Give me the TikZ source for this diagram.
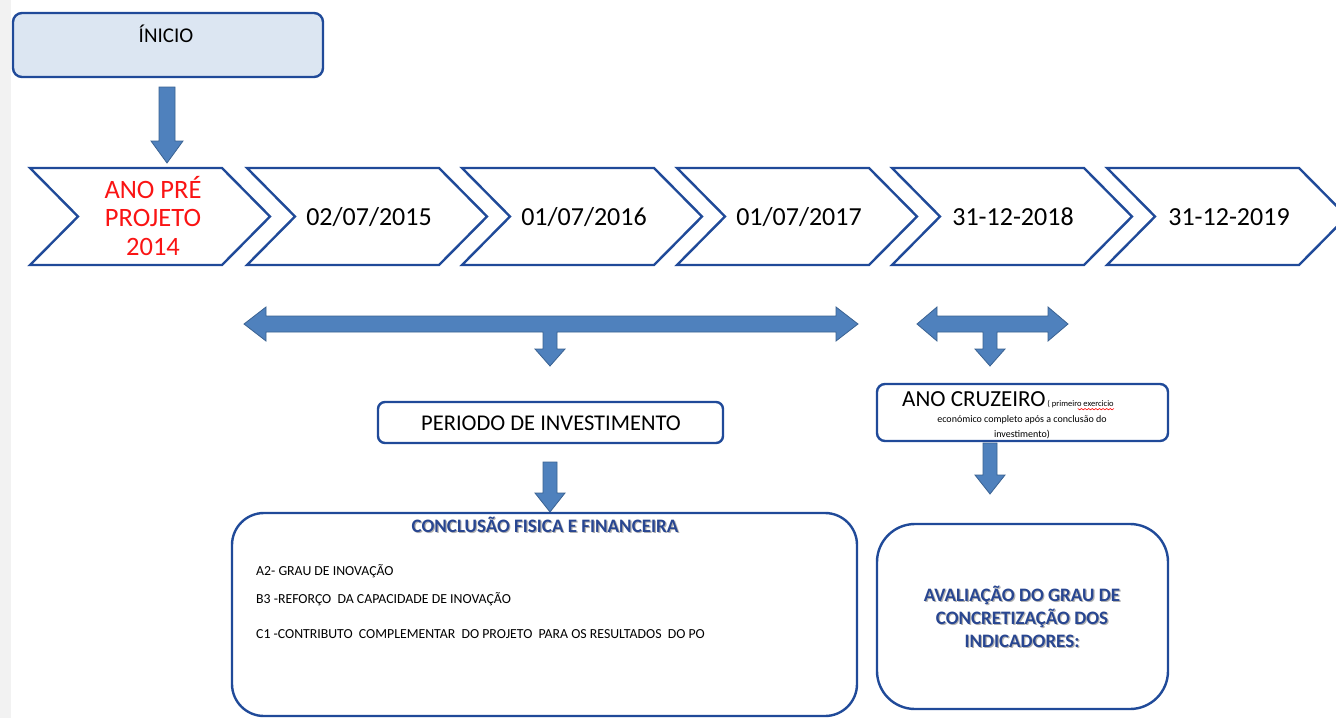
\documentclass[tikz,border=0pt]{standalone}
\usepackage{fontspec}
\setmainfont{Carlito}
\definecolor{bord}{RGB}{32,74,153}
\definecolor{arrf}{RGB}{79,129,189}
\definecolor{arrd}{RGB}{58,98,146}
\definecolor{inifill}{RGB}{220,230,242}
\definecolor{ttl}{RGB}{40,70,145}
\definecolor{redtxt}{RGB}{250,20,20}
\begin{document}
\begin{tikzpicture}[x=1pt,y=-1pt,
  box/.style={draw=bord,line width=2.4pt,fill=white},
  chev/.style={draw=bord,line width=2.4pt,fill=white,line join=miter},
  blk/.style={fill=arrf,draw=arrd,line width=0.8pt,line join=miter},
  lbl/.style={inner sep=0pt,text=black},
  datelbl/.style={lbl,font=\fontsize{26}{28}\selectfont},
  item/.style={lbl,anchor=west,font=\fontsize{13.8}{15}\selectfont},
  ttlshadow/.style={inner sep=0pt,text=black!30,align=center,font=\bfseries\fontsize{19}{23}\selectfont},
  ttltext/.style={inner sep=0pt,text=ttl,align=center,font=\bfseries\fontsize{19}{23}\selectfont}]
\useasboundingbox (0,0) rectangle (1336,718);
\clip (0,0) rectangle (1336,718);
\fill[white] (0,0) rectangle (1336,718);
\fill[black!5] (0,0) rectangle (11,718);

% INICIO
\draw[box,fill=inifill,rounded corners=9pt] (13,13) rectangle (323,77);
\node[lbl,font=\fontsize{21}{22}\selectfont] (ini) at (166,34) {ÍNICIO};

% arrow INICIO -> chevron
\draw[blk] (159,87) -- (175,87) -- (175,141) -- (183,141) -- (167,163) -- (151,141) -- (159,141) -- cycle;

% chevrons
\foreach \x in {30,247,462,677,892,1107}{
  \draw[chev] (\x,168) -- (\x+192,168) -- (\x+240,216.5) -- (\x+192,265) -- (\x,265) -- (\x+48,216.5) -- cycle;
}
\node[lbl,text=redtxt,align=center,font=\fontsize{26.5}{28.5}\selectfont] (c1) at (153,216) {ANO PRÉ\\PROJETO\\2014};
\node[datelbl] (c2) at (369,217) {02/07/2015};
\node[datelbl] (c3) at (584,217) {01/07/2016};
\node[datelbl] (c4) at (799,217) {01/07/2017};
\node[datelbl] (c5) at (1013,217) {31-12-2018};
\node[datelbl] (c6) at (1229,217) {31-12-2019};

% big double arrow
\draw[blk] (244,324) -- (266,307) -- (266,316) -- (836,316) -- (836,307) -- (858,324) -- (836,341) -- (836,332)
  -- (557,332) -- (557,349) -- (565,349) -- (550,366) -- (535,349) -- (543,349) -- (543,332)
  -- (266,332) -- (266,341) -- cycle;
% small double arrow
\draw[blk] (917,324) -- (937,307) -- (937,316) -- (1048,316) -- (1048,307) -- (1068,324) -- (1048,341) -- (1048,332)
  -- (997,332) -- (997,349) -- (1005,349) -- (990,366) -- (975,349) -- (983,349) -- (983,332)
  -- (937,332) -- (937,341) -- cycle;

% PERIODO box
\draw[box,rounded corners=7pt] (378,402) rectangle (723,443);
\node[lbl,font=\fontsize{22.5}{24}\selectfont] (per) at (551,423) {PERIODO DE INVESTIMENTO};

% ANO CRUZEIRO box
\draw[box,rounded corners=8pt] (877,384) rectangle (1168,441);
\node[lbl,anchor=base west,font=\fontsize{23}{24}\selectfont] (cru) at (902,406) {ANO CRUZEIRO};
\node[lbl,anchor=base west,font=\fontsize{8.5}{9}\selectfont] (cru1) at (cru.base east) {\,( primeiro exercicio};
\draw[red,line width=0.6pt] ([xshift=-36pt,yshift=-2.5pt]cru1.base east) \foreach \k in {0,...,9}{ -- ++(1.8,1.3) -- ++(1.8,-1.3)};
\node[lbl,align=center,font=\fontsize{10}{14.5}\selectfont] (cru2) at (1022,427) {económico completo após a conclusão do\\investimento)};

% arrows down
\draw[blk] (543,462) -- (557,462) -- (557,493) -- (565,493) -- (550,512) -- (535,493) -- (543,493) -- cycle;
\draw[blk] (983,443) -- (997,443) -- (997,475) -- (1005,475) -- (990,494) -- (975,475) -- (983,475) -- cycle;

% CONCLUSAO box
\draw[box,rounded corners=32pt] (232,513) rectangle (857,716);
\node[ttlshadow] at (546.2,526.2) {CONCLUSÃO FISICA E FINANCEIRA};
\node[ttltext] (con) at (545,525) {CONCLUSÃO FISICA E FINANCEIRA};
\node[item] (a2) at (256,571) {A2- GRAU DE INOVAÇÃO};
\node[item] (b3) at (256,599) {B3 -REFORÇO\ \ DA CAPACIDADE DE INOVAÇÃO};
\node[item] (c1t) at (256,634) {C1 -CONTRIBUTO\ \ COMPLEMENTAR\ \ DO PROJETO\ \ PARA OS RESULTADOS\ \ DO PO};

% AVALIACAO box
\draw[box,rounded corners=38pt] (877,524) rectangle (1168,709);
\node[ttlshadow] at (1023.2,618.2) {AVALIAÇÃO DO GRAU DE\\CONCRETIZAÇÃO DOS\\INDICADORES:};
\node[ttltext] (ava) at (1022,617) {AVALIAÇÃO DO GRAU DE\\CONCRETIZAÇÃO DOS\\INDICADORES:};
\end{tikzpicture}
\end{document}
